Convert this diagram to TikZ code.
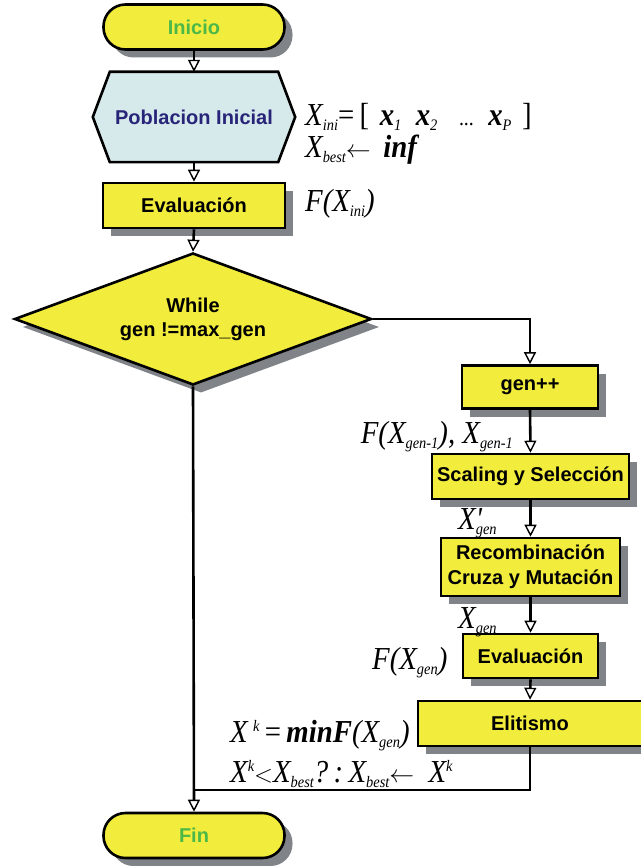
\documentclass[tikz,border=0pt]{standalone}
\usepackage{fontspec}
\setmainfont{Liberation Sans}
\newfontfamily\lbl[FakeStretch=0.9]{Liberation Serif}
\usetikzlibrary{arrows.meta,shadows,shapes.geometric}
\definecolor{boxy}{RGB}{242,236,60}
\definecolor{shgray}{RGB}{128,132,136}
\definecolor{hexfill}{RGB}{214,234,236}
\definecolor{navy}{RGB}{40,36,120}
\definecolor{termgreen}{RGB}{76,184,72}
\newcommand{\sbs}[1]{\raisebox{-5pt}{\fontsize{16}{16}\selectfont #1}}
\newcommand{\sps}[1]{\raisebox{11pt}{\fontsize{16}{16}\selectfont #1}}
\tikzset{
  shd/.style={drop shadow={shadow xshift=8pt, shadow yshift=-8pt, fill=shgray, opacity=1}},
  box/.style={draw=black, line width=2.6pt, fill=boxy, shd,
    font=\fontsize{20}{23}\selectfont\bfseries, align=center, inner sep=0pt},
  term/.style={box, rounded corners=22pt, minimum width=181pt, minimum height=45pt,
    text=termgreen},
  lab/.style={font=\lbl\fontsize{32}{34}\selectfont\itshape, inner sep=0pt, anchor=base west},
  flow/.style={line width=2.6pt, -{Triangle[fill=white, length=12pt, width=12pt, line width=1.4pt]}},
  conn/.style={line width=2.6pt}
}
\begin{document}
\begin{tikzpicture}[x=1pt,y=-1pt]
\useasboundingbox[fill=white] (0,0) rectangle (640,866);
% terminals and boxes
\node[term] (ini) at (194,27) {Inicio};
\path (194,117) node[minimum width=202pt, minimum height=90pt, inner sep=0pt] (pob) {};
\draw[line width=2.6pt, fill=hexfill] (pob.west) -- ([xshift=17pt]pob.north west) -- ([xshift=-17pt]pob.north east)
  -- (pob.east) -- ([xshift=-17pt]pob.south east) -- ([xshift=17pt]pob.south west) -- cycle;
\node[font=\fontsize{20}{23}\selectfont\bfseries, text=navy] (pobtxt) at (pob.center) {Poblacion Inicial};
\node[box, minimum width=182pt, minimum height=45pt] (ev1) at (194,205.5) {Evaluación};
\node[box, shape=diamond, aspect=2.7, minimum width=357pt, minimum height=132pt] (cond) at (193,319)
  {While\\[1pt]gen !=max\_gen};
\node[box, minimum width=136pt, minimum height=43pt] (genpp) at (530,387) {gen++};
\node[box, minimum width=197pt, minimum height=45pt] (sel) at (530.5,476.5) {Scaling y Selección};
\node[box, minimum width=179pt, minimum height=58pt] (rec) at (530.5,567) {Recombinación\\[2pt]Cruza y Mutación};
\node[box, minimum width=135pt, minimum height=44pt] (ev2) at (530.5,656) {Evaluación};
\node[box, minimum width=224pt, minimum height=45pt] (elit) at (530,723.5) {Elitismo};
\node[term] (fin) at (194,835.5) {Fin};
\coordinate (join) at (194,790);
% connectors
\draw[flow] (ini.south) -- (pob.north);
\draw[flow] (pob.south) -- (ev1.north);
\draw[flow] (ev1.south) -- (cond.north);
\draw[flow] (cond.east) -| (genpp.north);
\draw[flow] (genpp.south) -- (sel.north);
\draw[flow] (sel.south) -- (rec.north);
\draw[flow] (rec.south) -- (ev2.north);
\draw[flow] (ev2.south) -- (elit.north);
\draw[conn] (elit.south) |- (join);
\draw[flow] (cond.south) -- (fin.north);
% labels
\node[lab] (l1) at (305,126) {X\sbs{ini}{\upshape=\,[\,}\,{\bfseries x}\sbs{1}\ \ {\bfseries x}\sbs{2}\ \ \ {\upshape\fontsize{22}{22}\selectfont ...}\ \ {\bfseries x}\sbs{P}\,{\upshape\,]}};
\node[lab] (l2) at (305,158) {X\sbs{best}{\upshape$\leftarrow$}\ \,{\bfseries inf}};
\node[lab] (l3) at (305,212) {F(X\sbs{ini})};
\node[lab, anchor=base east] (l4) at (513,443) {F(X\sbs{gen-1}), X\sbs{gen-1}};
\node[lab] (l5) at (458,529) {X\rlap{'}\sbs{gen}};
\node[lab] (l6) at (458,628) {X\sbs{gen}};
\node[lab] (l7) at (372,669) {F(X\sbs{gen})};
\node[lab] (l8) at (230,742) {X\,\sps{k}\,{\upshape=}\,{\bfseries minF}(X\sbs{gen})};
\node[lab] (l9) at (230,782) {X\sps{k}{\upshape$<$}X\sbs{best}?\,:\,X\sbs{best}{\upshape$\leftarrow$}\ \ X\sps{k}};
\end{tikzpicture}
\end{document}
